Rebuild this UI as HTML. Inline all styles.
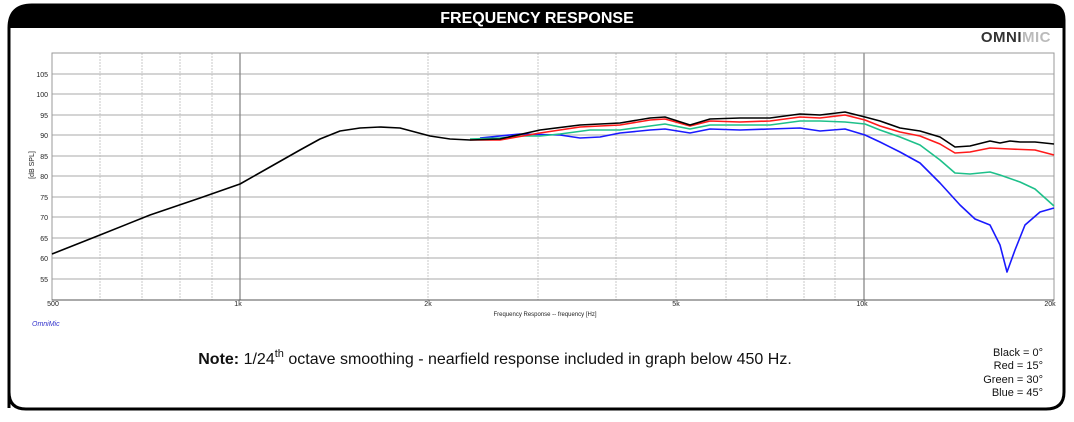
<!DOCTYPE html>
<html><head><meta charset="utf-8"><style>
html,body{margin:0;padding:0;background:#fff;}
svg{display:block;font-family:"Liberation Sans",Arial,sans-serif;}
</style></head><body>
<svg width="1074" height="422" viewBox="0 0 1074 422" xmlns="http://www.w3.org/2000/svg">
<rect x="0" y="0" width="1074" height="422" fill="#fff"/>
<path d="M9,408 L9,28 Q9,5 32,5 L1050,5 Q1064,5 1064,20 L1064,392 Q1064,409 1046,409 L26,409 Q9,409 9,392 Z" fill="none" stroke="#000" stroke-width="3"/>
<path d="M8,28 L8,27 Q9,4 32,4 L1050,4 Q1065,4 1065,20 L1065,28 Z" fill="#000"/>
<text x="537" y="23" text-anchor="middle" fill="#fff" font-weight="bold" font-size="16">FREQUENCY RESPONSE</text>
<text x="1051" y="42" text-anchor="end" font-weight="bold" font-size="15" fill="#333" letter-spacing="0.5">OMNI<tspan fill="#bbb">MIC</tspan></text>
<g stroke="#c8c8c8" stroke-width="1" stroke-dasharray="2,1">
<line x1="100" y1="53" x2="100" y2="300"/><line x1="142" y1="53" x2="142" y2="300"/><line x1="180" y1="53" x2="180" y2="300"/><line x1="212" y1="53" x2="212" y2="300"/>
<line x1="428" y1="53" x2="428" y2="300"/><line x1="538" y1="53" x2="538" y2="300"/><line x1="616" y1="53" x2="616" y2="300"/><line x1="676" y1="53" x2="676" y2="300"/><line x1="726" y1="53" x2="726" y2="300"/><line x1="767" y1="53" x2="767" y2="300"/><line x1="804" y1="53" x2="804" y2="300"/><line x1="835" y1="53" x2="835" y2="300"/>
</g>
<g stroke="#bbb" stroke-width="1.3">
<line x1="52" y1="74" x2="1054" y2="74"/><line x1="52" y1="94" x2="1054" y2="94"/><line x1="52" y1="115" x2="1054" y2="115"/><line x1="52" y1="135" x2="1054" y2="135"/><line x1="52" y1="156" x2="1054" y2="156"/><line x1="52" y1="176" x2="1054" y2="176"/><line x1="52" y1="197" x2="1054" y2="197"/><line x1="52" y1="217" x2="1054" y2="217"/><line x1="52" y1="238" x2="1054" y2="238"/><line x1="52" y1="258" x2="1054" y2="258"/><line x1="52" y1="279" x2="1054" y2="279"/>
</g>
<g stroke="#888" stroke-width="1.3"><line x1="240" y1="53" x2="240" y2="300"/><line x1="864" y1="53" x2="864" y2="300"/></g>
<rect x="52" y="53" width="1002" height="247" fill="none" stroke="#999" stroke-width="1"/>
<line x1="52" y1="300" x2="1054" y2="300" stroke="#555" stroke-width="1"/>
<g font-size="7" fill="#222" text-anchor="end">
<text x="48" y="77">105</text><text x="48" y="97">100</text><text x="48" y="118">95</text><text x="48" y="138">90</text><text x="48" y="159">85</text><text x="48" y="179">80</text><text x="48" y="200">75</text><text x="48" y="220">70</text><text x="48" y="241">65</text><text x="48" y="261">60</text><text x="48" y="282">55</text>
</g>
<text transform="translate(34,165) rotate(-90)" font-size="7" text-anchor="middle" fill="#222">[dB SPL]</text>
<g font-size="7" fill="#222" text-anchor="middle">
<text x="53" y="306">500</text><text x="238" y="306">1k</text><text x="428" y="306">2k</text><text x="676" y="306">5k</text><text x="862" y="306">10k</text><text x="1050" y="306">20k</text>
</g>
<text x="545" y="316" font-size="6" text-anchor="middle" fill="#222">Frequency Response -- frequency [Hz]</text>
<text x="32" y="326" font-size="7" font-style="italic" fill="#3333cc">OmniMic</text>
<g fill="none" stroke-width="1.6" stroke-linejoin="round">
<polyline stroke="#1a1aff" points="480,138 520,134 560,135 580,138 600,137 620,133 650,130 665,129 690,133 710,129 740,130 770,129 800,128 820,131 845,129 865,135 880,142 900,152 920,163 940,183 960,205 975,219 990,225 1000,245 1007,272 1015,250 1025,225 1040,212 1054,208"/>
<polyline stroke="#1ec08a" points="470,139 500,138 520,136 540,136 560,134 590,130 620,130 650,126 665,124 690,129 710,125 740,125 770,125 800,121 820,121 845,122 865,124 880,130 900,137 920,145 940,160 955,173 970,174 990,172 1000,175 1020,182 1035,189 1054,206"/>
<polyline stroke="#ff1a1a" points="470,140 500,140 540,133 580,127 620,125 650,120 665,119 690,126 710,121 740,122 770,121 800,117 820,118 845,115 865,120 880,126 900,132 920,136 940,144 955,153 970,152 990,148 1010,149 1035,150 1054,155"/>
<polyline stroke="#000" points="52,254 100,235 150,215 200,198 240,184 270,167 300,150 320,139 340,131 360,128 380,127 400,128 415,132 430,136 450,139 470,140 500,139 540,130 580,125 620,123 650,118 665,117 690,125 710,119 740,118 770,118 800,114 820,115 845,112 865,117 880,121 900,128 920,131 940,137 955,147 970,146 990,141 1000,143 1010,141 1020,142 1035,142 1054,144"/>
</g>
<text x="495" y="364" font-size="16" fill="#111" text-anchor="middle"><tspan font-weight="bold">Note:</tspan> 1/24<tspan font-size="11" dy="-7">th</tspan><tspan dy="7"> octave smoothing - nearfield response included in graph below 450 Hz.</tspan></text>
<g font-size="11" fill="#111" text-anchor="end">
<text x="1043" y="356">Black = 0°</text><text x="1043" y="369">Red = 15°</text><text x="1043" y="383">Green = 30°</text><text x="1043" y="396">Blue = 45°</text>
</g>
</svg>
</body></html>
